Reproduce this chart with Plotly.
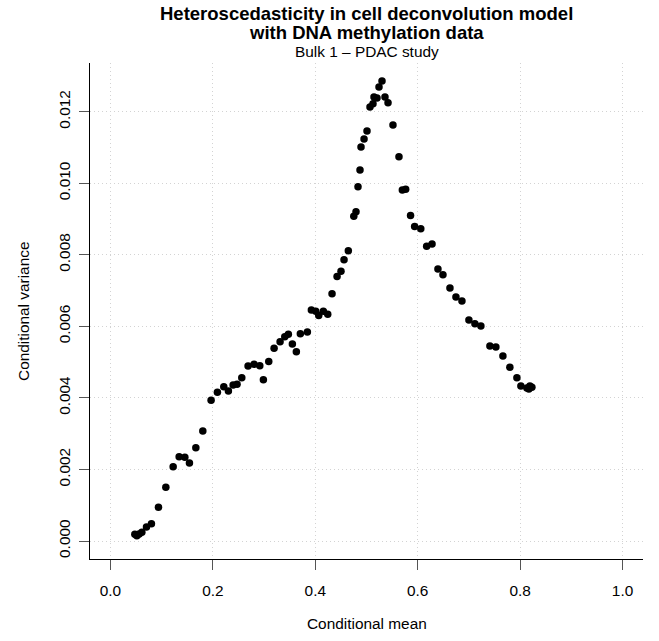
import plotly.graph_objects as go

# Conditional mean / conditional variance pairs for Bulk 1 (PDAC study)
cond_mean = [
    0.0476, 0.0515, 0.0560, 0.0613, 0.0703, 0.0800, 0.0937, 0.1081, 0.1224, 0.1341,
    0.1452, 0.1542, 0.1667, 0.1803, 0.1965, 0.2088, 0.2213, 0.2303, 0.2395, 0.2472,
    0.2564, 0.2687, 0.2804, 0.2916, 0.2986, 0.3091, 0.3195, 0.3312, 0.3404, 0.3474,
    0.3552, 0.3630, 0.3708, 0.3845, 0.3923, 0.4009, 0.4067, 0.4157, 0.4243, 0.4327,
    0.4425, 0.4502, 0.4561, 0.4645, 0.4752, 0.4795, 0.4834, 0.4873, 0.4893, 0.4952,
    0.5010, 0.5068, 0.5127, 0.5146, 0.5205, 0.5244, 0.5303, 0.5361, 0.5420, 0.5517,
    0.5634, 0.5700, 0.5765, 0.5860, 0.5940, 0.6060, 0.6175, 0.6280, 0.6395, 0.6493,
    0.6630, 0.6747, 0.6864, 0.7000, 0.7117, 0.7234, 0.7410, 0.7527, 0.7664, 0.7800,
    0.7937, 0.8015, 0.8132, 0.8171, 0.8191, 0.8230,
]
cond_var = [
    0.000187, 0.000148, 0.000196, 0.000243, 0.000391, 0.000484, 0.000942, 0.001501, 0.002077, 0.002356,
    0.002340, 0.002180, 0.002608, 0.003075, 0.003933, 0.004157, 0.004313, 0.004193, 0.004360, 0.004380,
    0.004560, 0.004890, 0.004940, 0.004900, 0.004510, 0.005020, 0.005390, 0.005570, 0.005710, 0.005780,
    0.005510, 0.005290, 0.005790, 0.005840, 0.006460, 0.006420, 0.006300, 0.006420, 0.006340, 0.006910,
    0.007390, 0.007540, 0.007860, 0.008110, 0.009080, 0.009200, 0.009900, 0.010370, 0.011010, 0.011240,
    0.011460, 0.012130, 0.012220, 0.012410, 0.012380, 0.012690, 0.012860, 0.012410, 0.012250, 0.011630,
    0.010740, 0.009810, 0.009830, 0.009100, 0.008790, 0.008730, 0.008240, 0.008300, 0.007600, 0.007440,
    0.007070, 0.006820, 0.006710, 0.006180, 0.006070, 0.006010, 0.005450, 0.005420, 0.005170, 0.004860,
    0.004560, 0.004330, 0.004280, 0.004250, 0.004330, 0.004300,
]

x_ticks = [0.0, 0.2, 0.4, 0.6, 0.8, 1.0]
x_tick_labels = ["0.0", "0.2", "0.4", "0.6", "0.8", "1.0"]
y_ticks = [0.000, 0.002, 0.004, 0.006, 0.008, 0.010, 0.012]
y_tick_labels = ["0.000", "0.002", "0.004", "0.006", "0.008", "0.010", "0.012"]

FONT = "Liberation Sans, Arial, Helvetica, sans-serif"
BASE = 15.4
TITLE = 18.5

fig = go.Figure(
    go.Scatter(
        x=cond_mean,
        y=cond_var,
        mode="markers",
        marker=dict(color="black", size=7.5, line=dict(width=0)),
        showlegend=False,
    )
)

axis_common = dict(
    showline=True,
    linecolor="black",
    linewidth=1.2,
    mirror=False,
    ticks="outside",
    ticklen=10,
    tickwidth=1,
    tickcolor="#555555",
    showgrid=True,
    gridcolor="#d3d3d3",
    griddash="1px,3px",
    gridwidth=1,
    zeroline=False,
    tickfont=dict(family=FONT, size=BASE, color="black"),
)

fig.update_xaxes(
    range=[-0.04, 1.04],
    tickvals=x_ticks,
    ticktext=x_tick_labels,
    ticklabelstandoff=7,
    **axis_common,
)
fig.update_yaxes(
    range=[-0.000503, 0.013361],
    tickvals=y_ticks,
    ticktext=y_tick_labels,
    tickangle=-90,
    ticklabelstandoff=3,
    **axis_common,
)

annotations = [
    dict(text="<b>Heteroscedasticity in cell deconvolution model</b>", x=0.5, y=1.1008,
         font=dict(size=TITLE)),
    dict(text="<b>with DNA methylation data</b>", x=0.5, y=1.0605, font=dict(size=TITLE)),
    dict(text="Bulk 1 \u2013 PDAC study", x=0.5, y=1.0222, font=dict(size=BASE)),
    dict(text="Conditional mean", x=0.5, y=-0.131, font=dict(size=BASE)),
    dict(text="Conditional variance", x=-0.1212, y=0.5, textangle=-90, font=dict(size=BASE)),
]
for a in annotations:
    a.update(xref="paper", yref="paper", showarrow=False, xanchor="center", yanchor="middle")
    a["font"].update(family=FONT, color="black")

fig.update_layout(
    width=659,
    height=641,
    margin=dict(l=90, r=16, t=63, b=82),
    paper_bgcolor="white",
    plot_bgcolor="white",
    annotations=annotations,
    font=dict(family=FONT, color="black"),
)

fig.write_html("out.html")
